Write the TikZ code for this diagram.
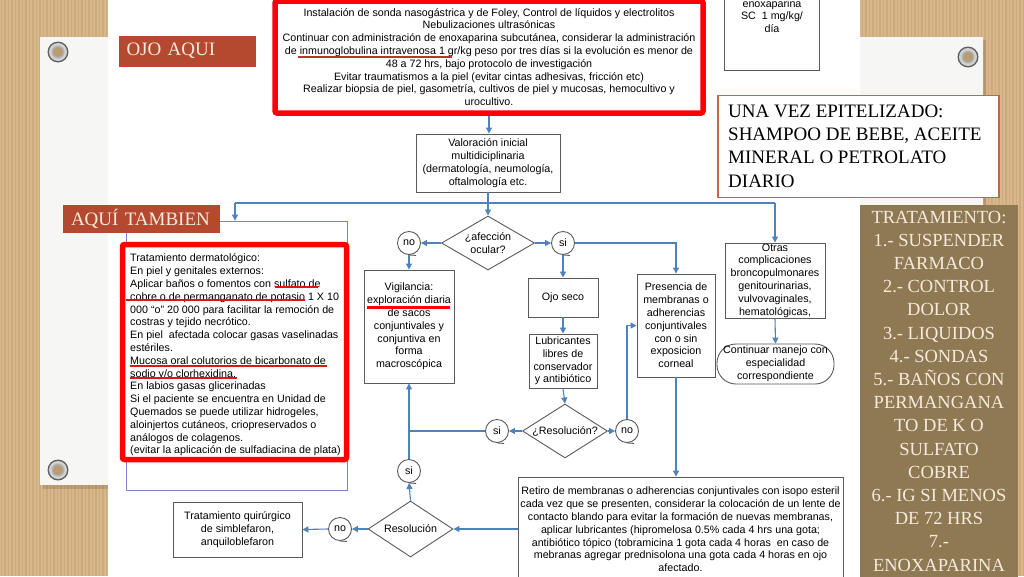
\documentclass[tikz,border=0pt]{standalone}
\usepackage{fontspec}
\setmainfont{Liberation Serif}
\newfontfamily\arialf{Liberation Sans}
\usetikzlibrary{arrows.meta,shapes.geometric,calc}
\definecolor{wood}{HTML}{D8B78B}
\definecolor{woodd}{HTML}{BF9B6E}
\definecolor{paper}{HTML}{F6F6F4}
\definecolor{rust}{HTML}{B5492F}
\definecolor{rustline}{HTML}{C0674A}
\definecolor{cream}{HTML}{F6EADF}
\definecolor{olive}{HTML}{8E7953}
\definecolor{lblue}{HTML}{4F81BD}
\definecolor{bgray}{HTML}{5A5A5A}
\definecolor{redbox}{HTML}{FF0000}
\definecolor{dermblue}{HTML}{7F7FD6}
\definecolor{ulred}{HTML}{B23A2A}
\definecolor{ulbright}{HTML}{E01515}
\begin{document}
\begin{tikzpicture}[x=1pt,y=-1pt,
  flow/.style={font=\arialf\fontsize{10.7}{12.8}\selectfont, align=center, text=black},
  box/.style={flow, draw=bgray, line width=0.9pt, fill=white, inner sep=0pt},
  dia/.style={flow, shape=diamond, draw=bgray, line width=0.9pt, fill=white, inner sep=0pt},
  offp/.style={flow, circle, draw=bgray, line width=0.9pt, fill=white, inner sep=0pt, minimum size=23pt},
  conn/.style={draw=lblue, line width=1.1pt},
  arr/.style={conn, -{Triangle[length=6pt,width=6pt]}},
  seriftxt/.style={font=\rmfamily\fontsize{19}{23.3}\selectfont},
  lab/.style={fill=rust, text=cream, font=\rmfamily\fontsize{19}{23}\selectfont, inner xsep=8pt, inner ysep=0pt, align=left},
  grom/.style={fill=gray!70}
]
\useasboundingbox (0,0) rectangle (1024,576);
\clip (0,0) rectangle (1024,576);
% wood background
\fill[wood] (0,0) rectangle (1024,576);
\foreach \x in {1.5,5,...,1024} \draw[woodd, line width=1.1pt, opacity=0.45] (\x,0) -- (\x,576);
% paper strips
\fill[black, opacity=0.12] (43,40) rectangle (118,489);
\fill[paper] (40,37) rectangle (115,485);
\fill[black, opacity=0.12] (858,40) rectangle (986,489);
\fill[paper] (855,37) rectangle (983,485);
% grommets
\foreach \gx/\gy in {58/52, 58/470, 968/57} {
  \fill[gray!75!black] (\gx,\gy) circle (10.5);
  \fill[gray!35] (\gx,\gy) circle (9);
  \fill[gray!60] (\gx,\gy) circle (6.5);
  \fill[wood!85!black] (\gx,\gy) circle (5);
}
% diagram sheet
\fill[white] (108,0) rectangle (860,576);

% ---------- flowchart ----------
\node[box, draw=redbox, line width=5.5pt, minimum width=428pt, minimum height=112pt, rounded corners=2pt] (top) at (489,57)
 {Instalación de sonda nasogástrica y de Foley, Control de líquidos y electrolitos\\
  Nebulizaciones ultrasónicas\\
  Continuar con administración de enoxaparina subcutánea, considerar la administración\\
  de inmunoglobulina intravenosa 1 gr/kg peso por tres días si la evolución es menor de\\
  48 a 72 hrs, bajo protocolo de investigación\\
  Evitar traumatismos a la piel (evitar cintas adhesivas, fricción etc)\\
  Realizar biopsia de piel, gasometría, cultivos de piel y mucosas, hemocultivo y\\
  urocultivo.};
\draw[ulred, line width=2.2pt] (298,57) -- (452,57);

\node[box, minimum width=95pt, minimum height=90pt, anchor=south] (enoxbox) at (772,71) {};
\node[flow] (enoxtxt) at (772,16) {enoxaparina\\SC\ \ 1 mg/kg/\\día};

\node[box, minimum width=144pt, minimum height=58pt] (val) at (488,163)
 {Valoración inicial\\multidiciplinaria\\(dermatología, neumología,\\oftalmología etc.};

\node[dia, aspect=1.72, minimum width=93pt, minimum height=54pt] (afe) at (488,243) {¿afección\\ocular?};

\coordinate (hl) at (235,203);
\coordinate (hr) at (775,203);

\node[draw=dermblue, line width=0.8pt, fill=white, minimum width=221pt, minimum height=269pt, inner sep=0pt] (derm) at (236.5,355.5) {};
\node[draw=redbox, line width=5.5pt, fill=white, minimum width=224pt, minimum height=215pt, inner sep=0pt, rounded corners=2pt] (dred) at (234.5,352) {};
\node[flow, align=left, anchor=west, inner sep=0pt] (dtxt) at (130,355)
 {Tratamiento dermatológico:\\
  En piel y genitales externos:\\
  Aplicar baños o fomentos con sulfato de\\
  cobre o de permanganato de potasio 1 X 10\\
  000 “o” 20 000 para facilitar la remoción de\\
  costras y tejido necrótico.\\
  En piel\ \ afectada colocar gasas vaselinadas\\
  estériles.\\
  Mucosa oral colutorios de bicarbonato de\\
  sodio y/o clorhexidina,\\
  En labios gasas glicerinadas\\
  Si el paciente se encuentra en Unidad de\\
  Quemados se puede utilizar hidrogeles,\\
  aloinjertos cutáneos, criopreservados o\\
  análogos de colagenos.\\
  (evitar la aplicación de sulfadiacina de plata)};
\draw[ulbright, line width=1.3pt] (275,287) -- (318,287);
\draw[ulbright, line width=1.3pt] (126,300) -- (305,300);
\draw[ulbright, line width=1.3pt] (130,366) -- (327,366);
\draw[ulbright, line width=1.3pt] (130,378) -- (237,378);

\node[offp] (no1) at (409,243) {no};
\node[offp] (si1) at (563,243) {si};

\node[box, minimum width=90pt, minimum height=113pt] (vig) at (409,326.5)
 {Vigilancia:\\exploración diaria\\de sacos\\conjuntivales y\\conjuntiva en\\forma\\macroscópica};
\draw[redbox, line width=3pt] (367,307) -- (450,307);

\node[box, minimum width=70pt, minimum height=39pt] (ojo) at (563,297.5) {Ojo seco};
\node[box, minimum width=68pt, minimum height=54pt] (lub) at (563,361) {Lubricantes\\libres de\\conservador\\y antibiótico};
\node[dia, aspect=1.57, minimum width=85pt, minimum height=54pt] (res1) at (565,431) {¿Resolución?};
\node[offp] (si2) at (497,431) {si};
\node[offp] (no2) at (627,431) {no};

\node[box, minimum width=78pt, minimum height=103pt] (pres) at (676,325.5)
 {Presencia de\\membranas o\\adherencias\\conjuntivales\\con o sin\\exposicion\\corneal};

\node[box, minimum width=100pt, minimum height=75pt] (otras) at (775,280.5)
 {Otras\\complicaciones\\broncopulmonares\\genitourinarias,\\vulvovaginales,\\hematológicas,};
\node[box, rounded corners=19pt, minimum width=117pt, minimum height=40pt] (cont) at (775.5,364)
 {Continuar manejo con\\especialidad\\correspondiente};

\node[box, minimum width=325pt, minimum height=105pt] (ret) at (680.5,529.5)
 {Retiro de membranas o adherencias conjuntivales con isopo esteril\\
  cada vez que se presenten, considerar la colocación de un lente de\\
  contacto blando para evitar la formación de nuevas membranas,\\
  aplicar lubricantes (hipromelosa 0.5\% cada 4 hrs una gota;\\
  antibiótico tópico (tobramicina 1 gota cada 4 horas\ \ en caso de\\
  mebranas agregar prednisolona una gota cada 4 horas en ojo\\
  afectado.};

\node[dia, aspect=1.52, minimum width=85pt, minimum height=56pt] (res2) at (410.5,529) {Resolución};
\node[offp] (si3) at (409,471) {si};
\node[offp] (no3) at (340,529) {no};
\node[box, minimum width=129pt, minimum height=55pt] (quir) at (237.5,529.5)
 {Tratamiento quirúrgico\\de simblefaron,\\anquiloblefaron};

\foreach \n in {no1,si1,si2,no2,si3,no3} \draw[bgray, line width=0.9pt] (\n.south) -- ++(7,0.5);

% connectors
\draw[arr] (top.south) -- (top.south |- val.north);
\draw[arr] (val.south) -- (afe.north);
\draw[conn] (hl) -- (hr);
\draw[arr] (hl) -- (hl |- derm.north);
\draw[arr] (hr) -- (otras.north);
\draw[arr] (afe.west) -- (no1.east);
\draw[arr] (afe.east) -- (si1.west);
\draw[arr] (no1.south) -- (vig.north);
\draw[arr] (si1.south) -- (ojo.north);
\draw[arr] (si1.east) -| (pres.north);
\draw[arr] (ojo.south) -- (lub.north);
\draw[arr] (lub.south) -- (res1.north);
\draw[arr] (res1.west) -- (si2.east);
\draw[arr] (res1.east) -- (no2.west);
\draw[arr] (si2.west) -| (vig.south);
\draw[conn] (si3.north) -- (si3.north |- si2.west);
\draw[arr] (no2.north) |- (pres.west);
\draw[arr] (pres.south) -- (pres.south |- ret.north);
\draw[arr] (ret.west |- res2.east) -- (res2.east);
\draw[arr] (res2.north) -- (si3.south);
\draw[arr] (res2.west) -- (no3.east);
\draw[arr] (no3.west) -- (quir.east);
\draw[arr] (otras.south) -- (cont.north);

% ---------- slide overlays ----------
\node[lab, text width=121pt, minimum height=31pt] (ojolab) at (187,51) {OJO AQUI};
\node[lab, text width=141pt, minimum height=28pt] (aquilab) at (141.5,219) {AQUÍ TAMBIEN};

\node[draw=rustline, line width=1.3pt, fill=white, minimum width=281pt, minimum height=102pt, inner sep=0pt] (una) at (858.5,146.5) {};
\node[seriftxt, align=left, anchor=west, inner sep=0pt] (unatxt) at (728,146)
 {UNA VEZ EPITELIZADO:\\SHAMPOO DE BEBE, ACEITE\\MINERAL O PETROLATO\\DIARIO};

\node[fill=olive, minimum width=158pt, minimum height=380pt, anchor=north, inner sep=0pt] (trat) at (939,205) {};
\node[font=\rmfamily\fontsize{18.5}{23.2}\selectfont, text=cream, align=center, inner sep=0pt] (trattxt) at (939,391)
 {TRATAMIENTO:\\1.- SUSPENDER\\FARMACO\\2.- CONTROL\\DOLOR\\3.- LIQUIDOS\\4.- SONDAS\\5.- BAÑOS CON\\PERMANGANA\\TO DE K O\\SULFATO\\COBRE\\6.- IG SI MENOS\\DE 72 HRS\\7.-\\ENOXAPARINA};
\end{tikzpicture}
\end{document}
